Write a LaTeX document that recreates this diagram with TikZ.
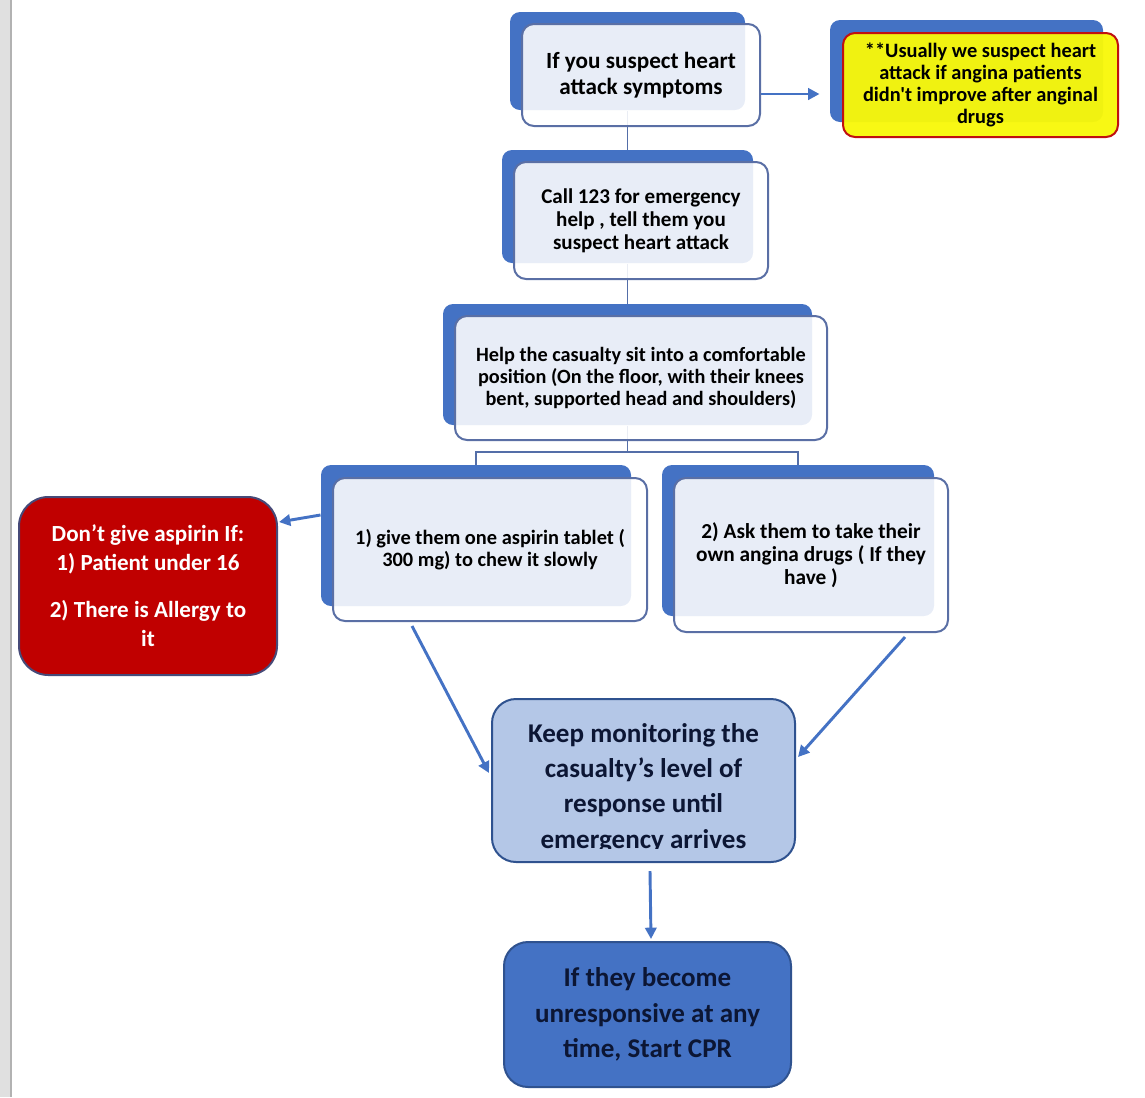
\documentclass[tikz,border=0pt]{standalone}
\usepackage{fontspec}
\setmainfont{Carlito}[Ligatures=TeXOff]
\usetikzlibrary{arrows.meta,calc}
\pgfdeclarelayer{bg}
\pgfsetlayers{bg,main}

\definecolor{accent}{RGB}{68,114,196}
\definecolor{cardline}{RGB}{90,111,165}
\definecolor{treeline}{RGB}{84,110,168}
\definecolor{warnred}{RGB}{192,0,0}
\definecolor{warnline}{RGB}{70,74,120}
\definecolor{notered}{RGB}{192,16,16}
\definecolor{noteyellow}{RGB}{248,248,10}
\definecolor{monfill}{RGB}{180,199,231}
\definecolor{darkline}{RGB}{47,82,143}
\definecolor{navytext}{RGB}{12,22,52}

\tikzset{every picture/.style={line width=0.75pt}}
\tikzset{
  back/.style={fill=accent, rounded corners=7.5pt, inner sep=0pt},
  card/.style={draw=cardline, line width=1.5pt, fill=white, fill opacity=0.88, text opacity=1,
    rounded corners=9pt, align=center, inner sep=0pt, font=\bfseries},
  notecard/.style={card, draw=notered, fill=noteyellow, fill opacity=0.96},
  warn/.style={draw=warnline, line width=1.5pt, fill=warnred, text=white, rounded corners=22pt,
    align=center, inner sep=0pt, font=\bfseries},
  monitor/.style={draw=darkline, line width=1.5pt, fill=monfill, rounded corners=18pt, inner sep=0pt},
  cprbox/.style={draw=darkline, line width=1.5pt, fill=accent, text=navytext, rounded corners=18pt,
    align=center, inner sep=0pt, font=\bfseries},
  tree/.style={draw=treeline, line width=1.4pt},
  arr/.style={draw=accent, line width=2.2pt, -{Triangle[length=8.5pt,width=8.5pt]}}
}

\begin{document}
\begin{tikzpicture}[x=0.75pt,y=0.75pt,yscale=-1,xscale=1]
\useasboundingbox (0,0) rectangle (1145,1097);

%Shape: page edge
\fill[black!12] (0,0) rectangle (10,1097);
\draw[black!30, line width=1pt] (11,0) -- (11,1097);

%Shape: suspect
\node[back, minimum width=176.25pt, minimum height=73.5pt] (symp-b) at (627.5,61) {};
\node[card, minimum width=178.5pt, minimum height=76.5pt, font=\bfseries\fontsize{17.4pt}{19.5pt}\selectfont] (symp) at (641,75)
  {If you suspect heart\\attack symptoms};

%Shape: note
\node[back, minimum width=204.75pt, minimum height=76.5pt] (note-b) at (966.5,71) {};
\node[notecard, minimum width=206.25pt, minimum height=78pt, font=\bfseries\fontsize{15.3pt}{16.5pt}\selectfont] (note) at (980.5,85)
  {**Usually we suspect heart\\attack if angina patients\\didn't improve after anginal\\drugs};

%Shape: call
\node[back, minimum width=188.25pt, minimum height=84.75pt] (call-b) at (627.5,206.5) {};
\node[card, minimum width=190.5pt, minimum height=87.75pt, font=\bfseries\fontsize{15.8pt}{17.25pt}\selectfont] (call) at (641,220.5)
  {Call 123 for emergency\\help , tell them you\\suspect heart attack};

%Shape: sit
\node[back, minimum width=276.75pt, minimum height=90.75pt] (sit-b) at (627.5,364.5) {};
\node[card, minimum width=279pt, minimum height=93pt, font=\bfseries\fontsize{15.2pt}{16.5pt}\selectfont] (sit) at (641,378)
  {Help the casualty sit into a comfortable\\position (On the floor, with their knees\\bent, supported head and shoulders)};

%Shape: aspirin
\node[back, minimum width=232.5pt, minimum height=105.75pt] (asp-b) at (476,535.5) {};
\node[card, minimum width=235.5pt, minimum height=107.25pt, font=\bfseries\fontsize{15.3pt}{16.5pt}\selectfont] (asp) at (490,549.5)
  {1) give them one aspirin tablet (\\300 mg) to chew it slowly};

%Shape: angina drugs
\node[back, minimum width=204pt, minimum height=113.25pt] (drugs-b) at (798,540.5) {};
\node[card, minimum width=205.5pt, minimum height=115.5pt, font=\bfseries\fontsize{16pt}{17.25pt}\selectfont] (drugs) at (811,555)
  {2) Ask them to take their\\own angina drugs ( If they\\have )};

%Shape: no aspirin
\node[warn, minimum width=193.5pt, minimum height=133.5pt, font=\bfseries\fontsize{17.3pt}{21.75pt}\selectfont] (noasp) at (148,586)
  {Don’t give aspirin If:\\1) Patient under 16\\[13.5pt]2) There is Allergy to\\it};

%Shape: monitor
\node[monitor, minimum width=227.25pt, minimum height=122.25pt] (keep) at (643.5,780.5) {};
\begin{scope}
\clip (494,701) rectangle (793,848.5);
% Text Node
\node[align=center, inner sep=0pt, text=navytext, font=\bfseries\fontsize{20.3pt}{26.6pt}\selectfont] (keep-text) at (643.5,788)
  {Keep monitoring the\\casualty’s level of\\response until\\emergency arrives};
\end{scope}

%Shape: cpr
\node[cprbox, minimum width=215.25pt, minimum height=108.75pt, font=\bfseries\fontsize{20.3pt}{26.6pt}\selectfont] (cpr) at (647.5,1014.5)
  {If they become\\unresponsive at any\\time, Start CPR};

%Tree Lines
\coordinate (fork) at (627.5,452);
\begin{pgfonlayer}{bg}
\draw[tree] (symp-b) -- (call-b);
\draw[tree] (call-b) -- (sit-b);
\draw[tree] (sit-b) -- (fork) -| (asp-b);
\draw[tree] (fork) -| (drugs-b);
\end{pgfonlayer}

%Straight Lines
\draw[arr] ($(symp.east)+(0,19)$) -- ($(note-b.west)+(-10,23)$);
\draw[arr] ($(asp-b.west)+(0,-20.5)$) -- ($(noasp.east)+(1,-64)$);
\draw[arr] ($(asp.south)+(-78,4)$) -- ($(keep.west)+(-2,-7.5)$);
\draw[arr] ($(drugs.south)+(94,4)$) -- ($(keep.east)+(2,-23.5)$);
\draw[arr] ($(keep.south)+(6.5,8)$) -- ($(cpr.north)+(3.5,-2)$);

\end{tikzpicture}
\end{document}
